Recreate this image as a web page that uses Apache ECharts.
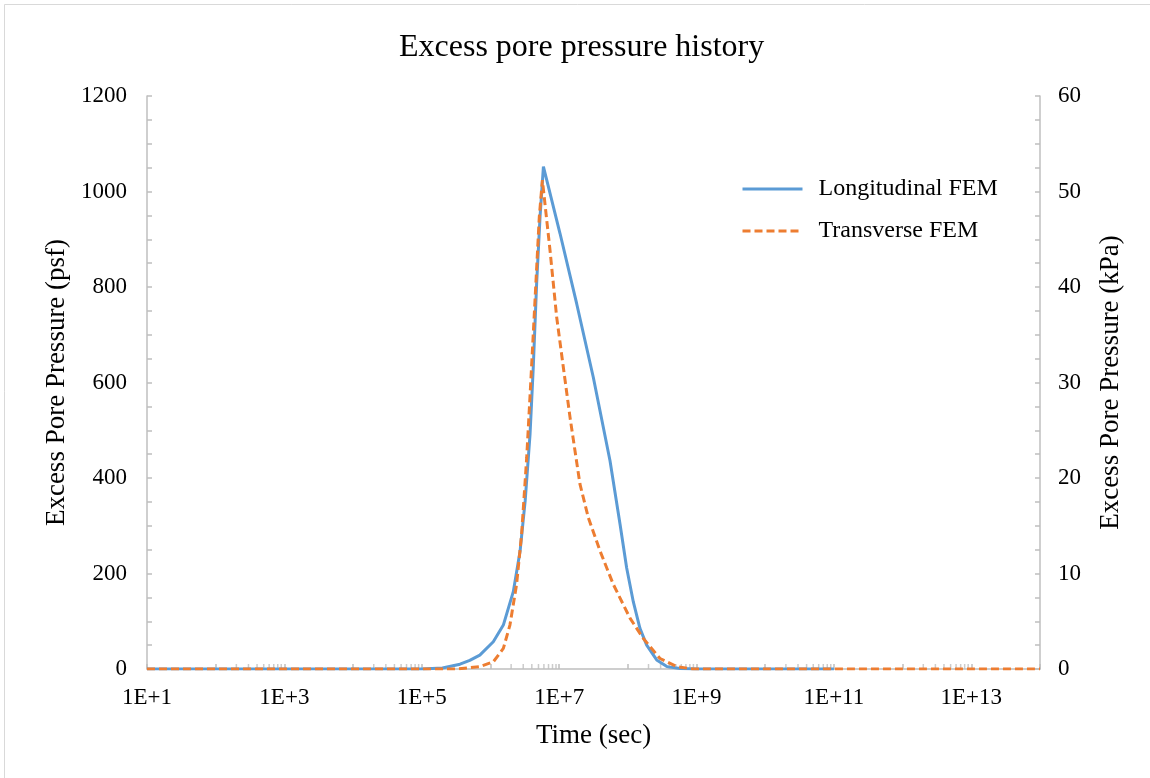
<!DOCTYPE html>
<html>
<head>
<meta charset="utf-8">
<script src="https://cdn.jsdelivr.net/npm/echarts@6/dist/echarts.min.js"></script>
<style>
  html, body { margin: 0; padding: 0; background: #fff; }
  #chart1 { width: 1150px; height: 778px; }
</style>
</head>
<body>
<div id="chart1"></div>
<script>
// time (sec) / excess pore pressure (psf)
var longTime = [10, 1e5, 2e5, 3.6e5, 5.0e5, 7.0e5, 1.1e6, 1.54e6, 2.15e6, 2.7e6, 3.2e6, 3.77e6, 4.2e6, 4.7e6, 5.27e6, 5.9e6,
  1.03e7, 1.8e7, 3.14e7, 5.5e7, 7.7e7, 9.6e7, 1.2e8, 1.5e8, 1.88e8, 2.63e8, 3.7e8, 5.75e8, 1e9, 1e11];
var longPsf = [0, 0, 2, 10, 18, 29, 57, 92, 162, 247, 352, 492, 632, 807, 947, 1052,
  912, 765, 611, 436, 303, 212, 141, 85, 50, 19, 5, 1, 0, 0];

var transTime = [10, 3.2e5, 7.0e5, 1.1e6, 1.54e6, 1.92e6, 2.4e6, 2.84e6, 3.37e6, 3.85e6, 4.45e6, 5.14e6, 5.7e6,
  7.36e6, 9.2e6, 1.15e7, 1.44e7, 1.7e7, 2.01e7, 2.66e7, 3.94e7, 6.15e7, 1.08e8, 1.68e8, 2.94e8, 5.15e8, 8.9e8, 1e14];
var transPsf = [0, 0, 5, 15, 43, 92, 177, 282, 443, 597, 772, 947, 1024,
  877, 737, 632, 527, 457, 387, 317, 247, 177, 106, 64, 22, 5, 0, 0];

// minor x ticks: 2..9 x 10^n in every other decade
var minorDecades = [2, 4, 6, 8, 10, 12];
var minorSteps = [2, 3, 4, 5, 6, 7, 8, 9];

var seriesNames = ["Longitudinal FEM", "Transverse FEM"];

function pairs(xs, ys) {
  var out = [];
  for (var i = 0; i < xs.length; i++) out.push([xs[i], ys[i]]);
  return out;
}
var minorTickData = [];
minorDecades.forEach(function (d) {
  minorSteps.forEach(function (m) {
    minorTickData.push([m * Math.pow(10, d), 0]);
  });
});

var FONT = "Liberation Serif";
var GREY = "#bfbfbf";

var chart_chart1 = echarts.init(document.getElementById("chart1"), null, { renderer: "canvas" });
var option_chart1 = {
  animation: false,
  backgroundColor: "#ffffff",
  textStyle: { fontFamily: FONT, color: "#000" },
  title: {
    text: "Excess pore pressure history",
    left: 394,
    top: 27,
    textStyle: { fontFamily: FONT, fontSize: 32, fontWeight: "normal", color: "#000" },
  },
  legend: {
    data: seriesNames,
    orient: "vertical",
    left: 736,
    top: 172,
    itemWidth: 60,
    itemHeight: 14,
    itemGap: 18,
    itemStyle: { opacity: 0 },
    lineStyle: { width: 3 },
    textStyle: { fontFamily: FONT, fontSize: 24, color: "#000", padding: [0, 0, 0, 11] },
  },
  graphic: [
    {
      type: "polyline",
      shape: { points: [[4.5, 800], [4.5, 4.5], [1160, 4.5]] },
      style: { stroke: "#d9d9d9", lineWidth: 1, fill: null },
      silent: true,
    },
  ],
  grid: { left: 147, right: 110, top: 96, bottom: 109, containLabel: false },
  xAxis: {
    type: "log",
    logBase: 10,
    min: 10,
    max: 1e14,
    interval: 1,
    splitNumber: 13,
    name: "Time (sec)",
    nameLocation: "middle",
    nameGap: 53,
    nameTextStyle: { fontFamily: FONT, fontSize: 27, color: "#000" },
    axisLine: { show: true, lineStyle: { color: GREY, width: 1.5 } },
    axisTick: { show: true, inside: true, length: 5, lineStyle: { color: GREY, width: 1.5 } },
    splitLine: { show: false },
    axisLabel: {
      margin: 17,
      fontFamily: FONT,
      fontSize: 23,
      color: "#000",
      formatter: function (v) {
        var e = Math.round(Math.log10(v));
        return e % 2 === 1 ? "1E+" + e : "";
      },
    },
  },
  yAxis: [
    {
      type: "value",
      min: 0,
      max: 1200,
      interval: 200,
      name: "Excess Pore Pressure (psf)",
      nameLocation: "middle",
      nameGap: 77,
      nameTextStyle: { fontFamily: FONT, fontSize: 27, color: "#000" },
      axisLine: { show: true, lineStyle: { color: GREY, width: 1.5 } },
      axisTick: { show: true, inside: true, length: 5, lineStyle: { color: GREY, width: 1.5 } },
      minorTick: { show: true, splitNumber: 4, length: 5, lineStyle: { color: GREY, width: 1.5 } },
      splitLine: { show: false },
      axisLabel: {
        margin: 20, fontFamily: FONT, fontSize: 23, color: "#000",
        formatter: function (v) { return String(v); },
      },
    },
    {
      type: "value",
      min: 0,
      max: 60,
      interval: 10,
      position: "right",
      name: "Excess Pore Pressure (kPa)",
      nameLocation: "middle",
      nameGap: 57,
      nameTextStyle: { fontFamily: FONT, fontSize: 27, color: "#000" },
      axisLine: { show: true, lineStyle: { color: GREY, width: 1.5 } },
      axisTick: { show: true, inside: true, length: 5, lineStyle: { color: GREY, width: 1.5 } },
      minorTick: { show: true, splitNumber: 4, length: 5, lineStyle: { color: GREY, width: 1.5 } },
      splitLine: { show: false },
      axisLabel: {
        margin: 18, fontFamily: FONT, fontSize: 23, color: "#000",
        formatter: function (v) { return String(v); },
      },
    },
  ],
  series: [
    {
      type: "scatter",
      name: "minor ticks",
      data: minorTickData,
      symbol: "rect",
      symbolSize: [1.5, 5],
      symbolOffset: [0, -2.5],
      itemStyle: { color: GREY },
      silent: true,
      z: 1,
    },
    {
      type: "line",
      name: seriesNames[0],
      data: pairs(longTime, longPsf),
      symbol: "none",
      smooth: false,
      color: "#5b9bd5",
      lineStyle: { width: 3, color: "#5b9bd5", type: "solid" },
      z: 3,
    },
    {
      type: "line",
      name: seriesNames[1],
      data: pairs(transTime, transPsf),
      symbol: "none",
      smooth: false,
      color: "#ed7d31",
      lineStyle: { width: 3, color: "#ed7d31", type: [8, 4] },
      z: 4,
    },
  ],
};
chart_chart1.setOption(option_chart1);
</script>
</body>
</html>
